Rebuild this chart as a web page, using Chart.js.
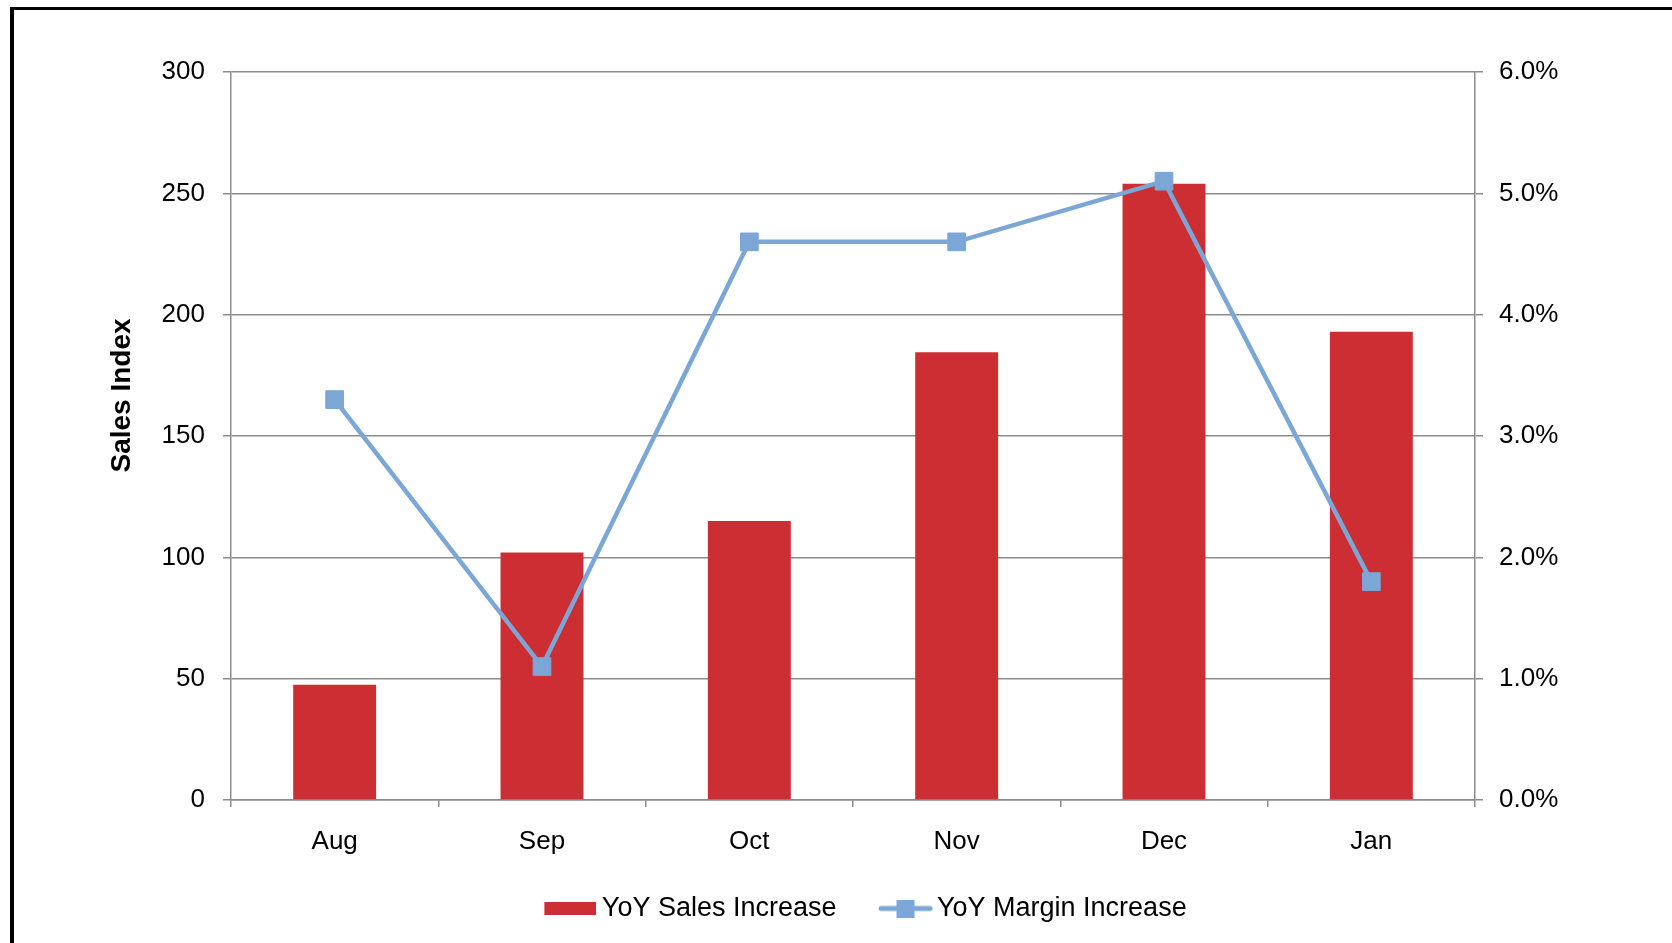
<!DOCTYPE html>
<html>
<head>
<meta charset="utf-8">
<script src="https://cdn.jsdelivr.net/npm/chart.js@4.4.1/dist/chart.umd.min.js"></script>
<style>
  html, body { margin: 0; padding: 0; background: #fff; overflow: hidden; }
  #wrap { position: relative; width: 1672px; height: 943px; }
  #frame { position: absolute; left: 10px; top: 7px; width: 2000px; height: 2000px;
           border-top: 3px solid #000; border-left: 4px solid #000; pointer-events: none; }
</style>
</head>
<body>
<div id="wrap">
  <canvas id="mycanvas" width="1672" height="943"></canvas>
  <div id="frame"></div>
</div>
<script>
// data
var months = ['Aug', 'Sep', 'Oct', 'Nov', 'Dec', 'Jan'];
var salesIncrease = [47.5, 102, 115, 184.5, 254, 193];
var marginIncrease = [3.3, 1.1, 4.6, 4.6, 5.1, 1.8];
var seriesNames = ['YoY Sales Increase', 'YoY Margin Increase'];

var red = '#CC2E33';
var blue = '#7BA6D6';
var gridGrey = '#8C8C8C';
var fontName = '"Liberation Sans", Arial, sans-serif';

// little pictures for the legend (left part left blank on purpose,
// the image is centred on the legend box)
function barIcon() {
    var c = document.createElement('canvas');
    c.width = 62; c.height = 13;
    var g = c.getContext('2d');
    g.fillStyle = red;
    g.fillRect(10, 0, 52, 13);
    return c;
}
function lineIcon() {
    var c = document.createElement('canvas');
    c.width = 65; c.height = 18;
    var g = c.getContext('2d');
    g.strokeStyle = blue;
    g.lineWidth = 5;
    g.lineCap = 'round';
    g.beginPath();
    g.moveTo(13, 9); g.lineTo(62, 9);
    g.stroke();
    g.fillStyle = blue;
    g.fillRect(28.5, 0, 18, 18);
    return c;
}

// y axis title drawn by hand so it sits where the original has it
var axisTitle = {
    id: 'axisTitle',
    afterDraw: function (chart) {
        var ctx = chart.ctx;
        var a = chart.chartArea;
        ctx.save();
        ctx.translate(a.left - 109, a.top + 323.5);
        ctx.rotate(-Math.PI / 2);
        ctx.font = 'bold 28px ' + fontName;
        ctx.fillStyle = '#000';
        ctx.textAlign = 'center';
        ctx.textBaseline = 'middle';
        ctx.fillText('Sales Index', 0, 0);
        ctx.restore();
    }
};

var chartdata = {
    labels: months,
    datasets: [
        {
            type: 'line',
            label: seriesNames[1],
            data: marginIncrease,
            yAxisID: 'y1',
            order: 0,
            borderColor: blue,
            backgroundColor: blue,
            borderWidth: 4.5,
            tension: 0,
            fill: false,
            pointStyle: 'rect',
            pointRadius: 12.5,
            pointHoverRadius: 12.5,
            pointBorderWidth: 1,
            pointBackgroundColor: blue,
            pointBorderColor: blue
        },
        {
            type: 'bar',
            label: seriesNames[0],
            data: salesIncrease,
            yAxisID: 'y',
            order: 1,
            backgroundColor: red,
            borderWidth: 0,
            barPercentage: 0.8,
            categoryPercentage: 0.5
        }
    ]
};

var ctx = document.getElementById('mycanvas');
var barGraph = new Chart(ctx, {
    data: chartdata,
    plugins: [axisTitle],
    options: {
        responsive: false,
        animation: false,
        layout: { padding: { left: 57, right: 0, top: 72, bottom: 11 } },
        font: { family: fontName, size: 26 },
        plugins: {
            tooltip: { enabled: false },
            legend: {
                position: 'bottom',
                align: 'center',
                labels: {
                    color: '#000',
                    font: { family: fontName, size: 27 },
                    usePointStyle: true,
                    pointStyleWidth: 46,
                    padding: 41,
                    generateLabels: function () {
                        return [
                            { text: seriesNames[0], pointStyle: barIcon(), fillStyle: red, strokeStyle: red, lineWidth: 0, hidden: false, datasetIndex: 1 },
                            { text: seriesNames[1], pointStyle: lineIcon(), fillStyle: blue, strokeStyle: blue, lineWidth: 0, hidden: false, datasetIndex: 0 }
                        ];
                    }
                }
            }
        },
        scales: {
            x: {
                offset: true,
                afterFit: function (scale) { scale.height = 54; },
                grid: { offset: true, drawOnChartArea: false, color: gridGrey, lineWidth: 1.5, tickLength: 7 },
                border: { color: gridGrey, width: 1.5 },
                ticks: { color: '#000', padding: 19, font: { family: fontName, size: 26 } }
            },
            y: {
                position: 'left',
                min: 0,
                max: 300,
                afterFit: function (scale) { scale.width = 174; },
                grid: { color: gridGrey, lineWidth: 1.5, tickLength: 8 },
                border: { color: gridGrey, width: 1.5 },
                ticks: { stepSize: 50, color: '#000', padding: 18, font: { family: fontName, size: 26 } }
            },
            y1: {
                position: 'right',
                min: 0,
                max: 6,
                afterFit: function (scale) { scale.width = 197; },
                grid: { drawOnChartArea: false, color: gridGrey, lineWidth: 1.5, tickLength: 8 },
                border: { color: gridGrey, width: 1.5 },
                ticks: {
                    stepSize: 1,
                    color: '#000',
                    padding: 16,
                    font: { family: fontName, size: 26 },
                    callback: function (v) { return v.toFixed(1) + '%'; }
                }
            }
        }
    }
});
</script>
</body>
</html>
